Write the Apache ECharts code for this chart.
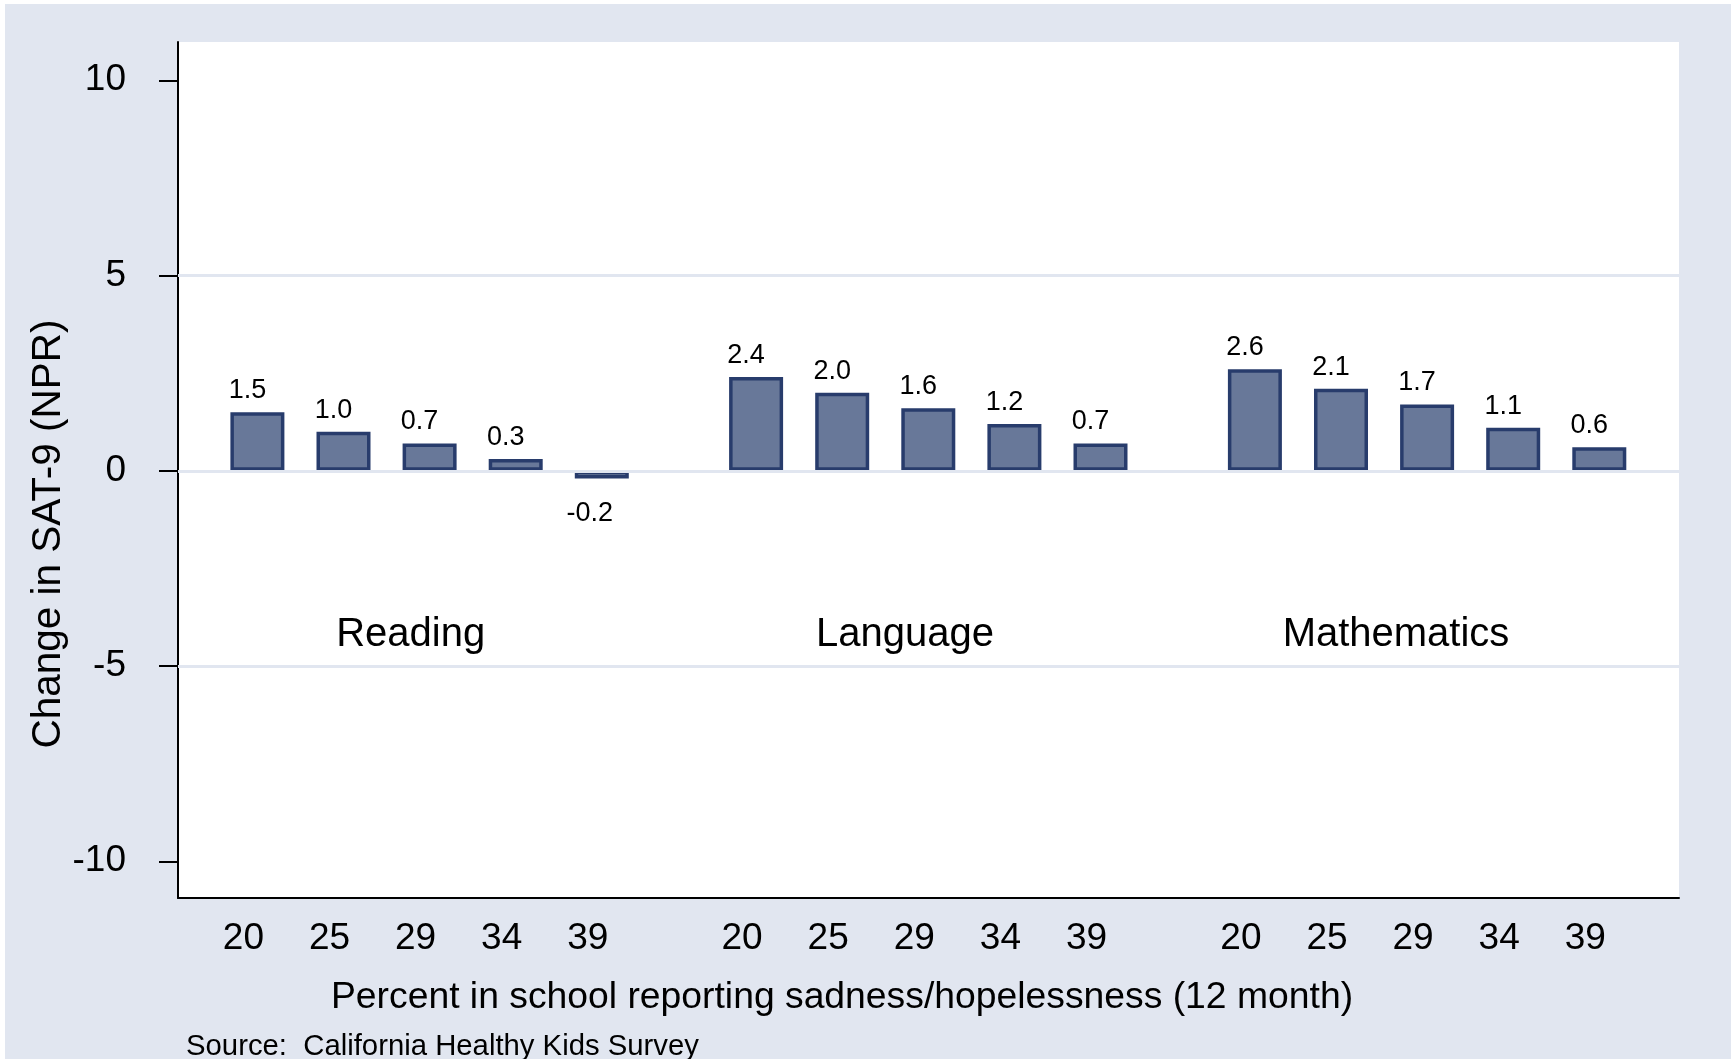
<!DOCTYPE html>
<html>
<head>
<meta charset="utf-8">
<title>Change in SAT-9 by sadness/hopelessness</title>
<script src="https://cdn.jsdelivr.net/npm/echarts@6/dist/echarts.min.js"></script>
<style>
html, body { margin: 0; padding: 0; background: #fff; overflow: hidden; }
#bg { position: absolute; left: 5px; top: 4px; right: 0; bottom: 0; background: #e1e6f0; }
#main { position: absolute; left: 0; top: 0; width: 1731px; height: 1059px; }
</style>
</head>
<body>
<div id="bg"></div>
<div id="main"></div>
<script>
// data
var groups = ['Reading', 'Language', 'Mathematics'];
var sadness = ['20', '25', '29', '34', '39'];
var reading = [1.5, 1.0, 0.7, 0.3, -0.2];
var language = [2.4, 2.0, 1.6, 1.2, 0.7];
var mathematics = [2.6, 2.1, 1.7, 1.1, 0.6];
var yTicks = [-10, -5, 0, 5, 10];
var gridLines = [-5, 0, 5];

var font = '"Liberation Sans", Arial, sans-serif';
var bgColor = '#e1e6f0';
var values = [reading, language, mathematics];
var groupLeft = [214.35, 713.05, 1211.85];
var groupLabelX = [410.7, 905, 1396];
var yMin = -10.94, yMax = 10.98;

var myChart = echarts.init(document.getElementById('main'));

var grids = [{
    left: 178, right: 52, top: 42, bottom: 161,
    show: true, backgroundColor: '#fff', borderWidth: 0
}];
var xAxes = [{
    gridIndex: 0, type: 'value', min: 0, max: 1,
    axisLine: { show: true, onZero: false, lineStyle: { color: '#000', width: 2 } },
    axisTick: { show: false }, axisLabel: { show: false }, splitLine: { show: false }
}];
var yAxes = [{
    gridIndex: 0, type: 'value', min: yMin, max: yMax,
    axisLine: { show: true, onZero: false, lineStyle: { color: '#000', width: 2 } },
    axisTick: { show: true, length: 19, customValues: yTicks, lineStyle: { color: '#000', width: 2 } },
    axisLabel: { customValues: yTicks, margin: 52, fontSize: 37, color: '#000', fontFamily: font },
    splitLine: { show: false }
}];
var series = [{
    type: 'scatter', xAxisIndex: 0, yAxisIndex: 0, data: [], silent: true,
    markLine: {
        silent: true, symbol: ['none', 'none'], label: { show: false },
        lineStyle: { color: bgColor, width: 3, type: 'solid' },
        data: gridLines.map(function (v) { return { yAxis: v }; })
    }
}];

groups.forEach(function (g, gi) {
    var idx = gi + 1;
    grids.push({ left: groupLeft[gi], width: 430.5, top: 42, bottom: 161 });
    xAxes.push({
        gridIndex: idx, type: 'category', data: sadness,
        axisLine: { show: false }, axisTick: { show: false },
        axisLabel: { margin: 22, fontSize: 37, color: '#000', fontFamily: font, padding: [0, 28, 0, 0] }
    });
    yAxes.push({ gridIndex: idx, type: 'value', min: yMin, max: yMax, show: false });
    series.push({
        name: g, type: 'bar', xAxisIndex: idx, yAxisIndex: idx,
        barWidth: 54,
        itemStyle: { color: '#687899', borderColor: '#283c6c', borderWidth: 3.5 },
        label: {
            show: true, position: 'top', distance: 8, offset: [-10, 0],
            fontSize: 27, color: '#000', fontFamily: font,
            formatter: function (p) { return p.value.toFixed(1); }
        },
        data: values[gi].map(function (v) {
            if (v < 0) return { value: v, label: { position: 'bottom', distance: 21, offset: [-12, 0] } };
            return v;
        })
    });
});

var graphics = groups.map(function (g, gi) {
    return {
        type: 'text', x: groupLabelX[gi], y: 634.5,
        style: { text: g, font: '40px ' + font, fill: '#000', align: 'center', verticalAlign: 'middle' }
    };
});
graphics.push({
    type: 'text', x: 48.5, y: 534, rotation: Math.PI / 2,
    style: { text: 'Change in SAT-9 (NPR)', font: '40.5px ' + font, fill: '#000', align: 'center', verticalAlign: 'middle' }
});
graphics.push({
    type: 'text', x: 842, y: 997.5,
    style: { text: 'Percent in school reporting sadness/hopelessness (12 month)', font: '37.3px ' + font, fill: '#000', align: 'center', verticalAlign: 'middle' }
});
graphics.push({
    type: 'text', x: 186, y: 1047,
    style: { text: 'Source:  California Healthy Kids Survey', font: '29.3px ' + font, fill: '#000', align: 'left', verticalAlign: 'middle' }
});

option = {
    backgroundColor: 'transparent',
    animation: false,
    grid: grids,
    xAxis: xAxes,
    yAxis: yAxes,
    series: series,
    graphic: graphics
};
myChart.setOption(option);
</script>
</body>
</html>
